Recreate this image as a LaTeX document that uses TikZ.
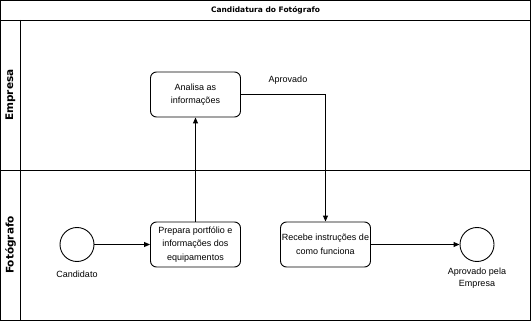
\documentclass[tikz,border=0pt]{standalone}
\usepackage{fontspec}
\setmainfont{Liberation Sans}
\newfontfamily\titlefont{DejaVu Sans}
\usetikzlibrary{arrows.meta}
\begin{document}
\begin{tikzpicture}[x=1pt,y=-1pt,
  line width=0.9pt,
  task/.style={draw, rounded corners=6pt, minimum width=90pt, minimum height=45pt,
    align=center, font=\fontsize{9}{13.5}\selectfont, inner sep=1pt},
  event/.style={draw, circle, minimum size=34pt, inner sep=0pt},
  caption/.style={align=center, font=\fontsize{9}{12}\selectfont},
  lanelabel/.style={rotate=90, font=\fontsize{10.5}{12}\selectfont\titlefont\bfseries},
  flow/.style={-{Triangle[length=6pt,width=5pt]}, line width=0.9pt}]
  \useasboundingbox (0,0) rectangle (531,321);
  % pool frame, title bar and lanes
  \draw (0.5,0.5) rectangle (530,320);
  \draw (0.5,20) -- (530,20);
  \draw (20,20) -- (20,320);
  \draw (0.5,170) -- (530,170);
  \node[font=\fontsize{7.5}{9}\selectfont\titlefont\bfseries] (title) at (265.5,10.5) {Candidatura do Fotógrafo};
  \node[lanelabel] (laneA) at (10.5,95) {Empresa};
  \node[lanelabel] (laneB) at (10.5,245) {Fotógrafo};
  % tasks
  \node[task] (analisa) at (195.5,94.5) {Analisa as\\informações};
  \node[task] (prepara) at (195.5,244.5) {Prepara portfólio e\\informações dos\\equipamentos};
  \node[task] (recebe) at (325.5,244.5) {Recebe instruções de\\como funciona};
  % events
  \node[event] (start) at (77,244.5) {};
  \node[event] (end) at (477,244.5) {};
  \node[caption] (startlbl) at (77,274.5) {Candidato};
  \node[caption] (endlbl) at (477,278) {Aprovado pela\\Empresa};
  % flows
  \draw[flow] (start) -- (prepara);
  \draw[flow] (prepara) -- (analisa);
  \draw[flow] (analisa.east) -| (recebe.north);
  \node[font=\fontsize{9}{10}\selectfont] (aprov) at (288,80) {Aprovado};
  \draw[flow] (recebe) -- (end);
\end{tikzpicture}
\end{document}
